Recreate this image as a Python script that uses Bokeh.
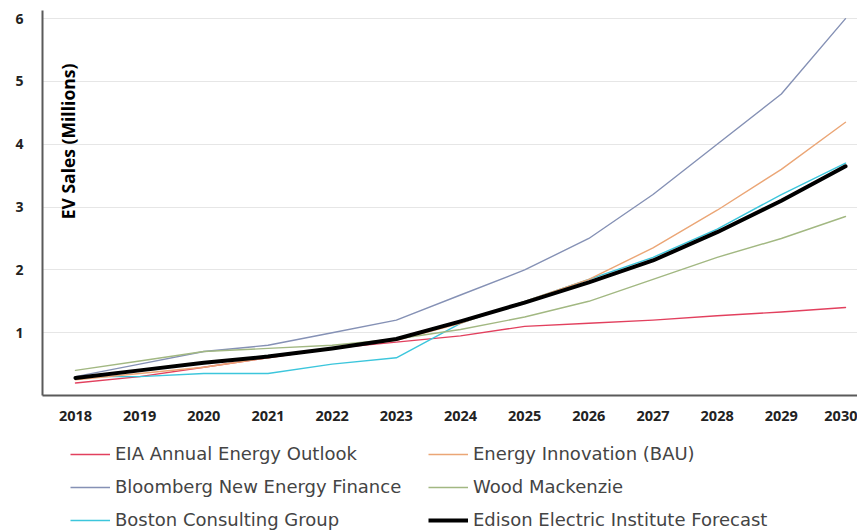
from bokeh.plotting import figure
from bokeh.layouts import column
from bokeh.models import Range1d, FixedTicker, Legend, LegendItem, Label
from bokeh.embed import file_html
from bokeh.resources import INLINE

years = [2018, 2019, 2020, 2021, 2022, 2023, 2024, 2025, 2026, 2027, 2028, 2029, 2030]
eia = [0.20, 0.30, 0.45, 0.60, 0.75, 0.85, 0.95, 1.10, 1.15, 1.20, 1.27, 1.33, 1.40]
energy_innovation = [0.25, 0.35, 0.45, 0.60, 0.75, 0.88, 1.15, 1.50, 1.85, 2.35, 2.95, 3.60, 4.35]
bloomberg = [0.30, 0.50, 0.70, 0.80, 1.00, 1.20, 1.60, 2.00, 2.50, 3.20, 4.00, 4.80, 6.00]
wood_mackenzie = [0.40, 0.55, 0.70, 0.75, 0.80, 0.90, 1.05, 1.25, 1.50, 1.85, 2.20, 2.50, 2.85]
bcg = [0.30, 0.30, 0.35, 0.35, 0.50, 0.60, 1.15, 1.50, 1.85, 2.20, 2.65, 3.20, 3.70]
eei = [0.28, 0.40, 0.52, 0.62, 0.75, 0.90, 1.18, 1.48, 1.80, 2.15, 2.60, 3.10, 3.65]
y_ticks = [1, 2, 3, 4, 5, 6]

series = [
    ("EIA Annual Energy Outlook", eia, "#e2405e", 1.4),
    ("Bloomberg New Energy Finance", bloomberg, "#8591b5", 1.4),
    ("Boston Consulting Group", bcg, "#3cc6dc", 1.4),
    ("Energy Innovation (BAU)", energy_innovation, "#eba676", 1.4),
    ("Wood Mackenzie", wood_mackenzie, "#a2b882", 1.4),
    ("Edison Electric Institute Forecast", eei, "#000000", 4.0),
]

p = figure(width=857, height=430, output_backend="svg", toolbar_location=None,
           x_range=Range1d(2017.486, 2030.187), y_range=Range1d(0, 6.13),
           min_border_left=42, min_border_top=10, min_border_right=0, min_border_bottom=35)
p.outline_line_color = None
p.background_fill_color = "white"

for name, vals, color, lw in series:
    p.line(years, vals, line_color=color, line_width=lw, line_join="round", line_cap="round")

p.xgrid.grid_line_color = None
p.ygrid.ticker = FixedTicker(ticks=y_ticks)
p.ygrid.grid_line_color = "#e6e6e6"
p.ygrid.grid_line_width = 1

p.xaxis.ticker = FixedTicker(ticks=years)
p.yaxis.ticker = FixedTicker(ticks=y_ticks)
for ax in (p.xaxis, p.yaxis):
    ax.axis_line_color = "#5a5a5a"
    ax.axis_line_width = 2
    ax.major_tick_line_color = None
    ax.minor_tick_line_color = None
    ax.major_label_text_font = "Open Sans"
    ax.major_label_text_font_style = "bold"
    ax.major_label_text_color = "#222222"
p.xaxis.major_label_text_font_size = "14.5px"
p.yaxis.major_label_text_font_size = "14px"
p.xaxis.major_label_standoff = 9
p.yaxis.major_label_standoff = 13

title = Label(x=2017.891, y=4.045, text="EV Sales (Millions)", angle=1.5708,
              text_align="center", text_baseline="middle",
              text_font="Open Sans", text_font_style="bold", text_font_size="17.5px",
              text_color="#000000")
p.add_layout(title)

# legend panel below the chart (its lines lie outside its own ranges, only the legend shows)
lf = figure(width=857, height=100, output_backend="svg", toolbar_location=None,
            x_range=Range1d(-2, -1), y_range=Range1d(-2, -1),
            x_axis_type=None, y_axis_type=None,
            min_border_left=42, min_border_right=0, min_border_top=0, min_border_bottom=0)
lf.outline_line_color = None
lf.xgrid.grid_line_color = None
lf.ygrid.grid_line_color = None

items = []
for name, vals, color, lw in series:
    r = lf.line(years, vals, line_color=color, line_width=lw)
    items.append(LegendItem(label=name, renderers=[r]))

legend = Legend(items=items, ncols=2, location=(28, 0), margin=0, padding=0,
                glyph_width=40, glyph_height=16, label_height=16, label_standoff=5,
                label_width=301, spacing=12,
                label_text_font="DejaVu Sans", label_text_font_size="18px",
                label_text_color="#444444", border_line_color=None,
                background_fill_alpha=0)
lf.add_layout(legend, "center")

layout = column(p, lf, spacing=0)
open("out.html", "w").write(file_html(layout, INLINE))
